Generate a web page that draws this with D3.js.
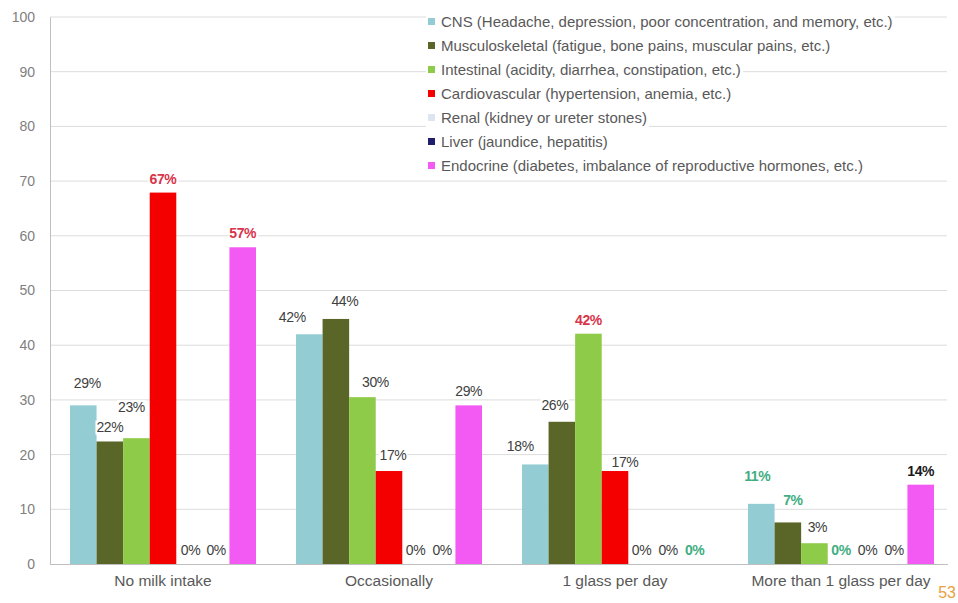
<!DOCTYPE html>
<html><head><meta charset="utf-8">
<script src="https://cdn.jsdelivr.net/npm/d3@7/dist/d3.min.js"></script>
<style>body{margin:0;background:#fff;}svg{display:block;font-family:"Liberation Sans",Arial,sans-serif;}</style>
</head><body><svg id="c" width="958" height="603"></svg>
<script>
const categories = ["No milk intake", "Occasionally", "1 glass per day", "More than 1 glass per day"];
const seriesNames = [
  "CNS (Headache, depression, poor concentration, and memory, etc.)",
  "Musculoskeletal (fatigue, bone pains, muscular pains, etc.)",
  "Intestinal (acidity, diarrhea, constipation, etc.)",
  "Cardiovascular (hypertension, anemia, etc.)",
  "Renal (kidney or ureter stones)",
  "Liver (jaundice, hepatitis)",
  "Endocrine (diabetes, imbalance of reproductive hormones, etc.)"
];
const seriesColors = ["#93CDD3", "#5A6628", "#8DCB48", "#F50000", "#DDE6F0", "#1E1E6A", "#F35AF3"];
// values per category, in series order
const cnsValues    = [29, 42, 18.2, 11];
const muscValues   = [22.4, 44.8, 26, 7.6];
const intestValues = [23, 30.5, 42.1, 3.8];
const cardioValues = [67.9, 17, 17, 0];
const renalValues  = [0, 0, 0, 0];
const liverValues  = [0, 0, 0, 0];
const endoValues   = [57.9, 29, 0, 14.5];
const labelTexts = [
  ["29%", "22%", "23%", "67%", "0%", "0%", "57%"],
  ["42%", "44%", "30%", "17%", "0%", "0%", "29%"],
  ["18%", "26%", "42%", "17%", "0%", "0%", "0%"],
  ["11%", "7%", "3%", "0%", "0%", "0%", "14%"]
];
const yTicks = [0, 10, 20, 30, 40, 50, 60, 70, 80, 90, 100];
const pageNumber = "53";

const allValues = [cnsValues, muscValues, intestValues, cardioValues, renalValues, liverValues, endoValues];

// label styles / nudges (presentation)
const labelStyle = {
  "0-3": "red", "0-6": "red", "2-2": "red",
  "2-6": "green", "3-0": "green", "3-1": "green", "3-3": "green", "3-6": "black"
};
const labelNudge = { // [dx, dy]
  "0-0": [4, -8], "0-2": [-5, -17], "0-4": [1, 0], "0-5": [0, 0],
  "1-0": [-17, -3], "1-1": [9, -4], "1-2": [13, -1], "1-3": [4, -2],
  "2-0": [-15, -4], "2-1": [-7, -3], "2-3": [10, 5],
  "3-0": [-4, -14], "3-1": [5, -8], "3-2": [3, -2]
};

const svg = d3.select("#c");
const x0 = d3.scaleBand().domain(categories).range([50, 954]);
const x1 = d3.scaleBand().domain(d3.range(seriesNames.length)).range([20, 206]).padding(0);
const y = d3.scaleLinear().domain([0, 100]).range([564, 17]);

// gridlines
svg.append("g").selectAll("line").data(yTicks.filter(d => d > 0)).join("line")
  .attr("x1", 50).attr("x2", 947).attr("y1", d => y(d)).attr("y2", d => y(d))
  .attr("stroke", "#DCDCDC").attr("stroke-width", 1);

// y axis
const yAxis = d3.axisLeft(y).tickValues(yTicks).tickSize(0).tickPadding(15);
const ga = svg.append("g").attr("transform", "translate(50,0)").call(yAxis);
ga.select(".domain").attr("stroke", "#BFBFBF");
ga.selectAll("text").attr("fill", "#7F7F7F").attr("font-size", 14).attr("font-family", "Liberation Sans, Arial, sans-serif");

// x axis
const xAxis = d3.axisBottom(x0).tickSize(0).tickPadding(11);
const gx = svg.append("g").attr("transform", "translate(0,564)").call(xAxis);
gx.select(".domain").attr("stroke", "#BFBFBF").attr("d", "M50,0.5H948");
gx.selectAll("text").attr("fill", "#595959").attr("font-size", 15.5).attr("font-family", "Liberation Sans, Arial, sans-serif");

// bars
const barData = [];
categories.forEach((c, ci) => {
  allValues.forEach((vals, si) => {
    barData.push({c, ci, si, v: vals[ci], label: labelTexts[ci][si]});
  });
});
svg.append("g").selectAll("rect").data(barData.filter(d => d.v > 0)).join("rect")
  .attr("x", d => x0(d.c) + x1(d.si))
  .attr("width", x1.bandwidth())
  .attr("y", d => y(d.v))
  .attr("height", d => y(0) - y(d.v))
  .attr("fill", d => seriesColors[d.si]);

// labels
const styleColor = {red: "#D8344A", green: "#3FAE82", black: "#1A1A1A"};
const lg = svg.append("g");
barData.forEach(d => {
  const key = d.ci + "-" + d.si;
  const st = labelStyle[key];
  const nd = labelNudge[key] || [0, 0];
  const cx = x0(d.c) + x1(d.si) + x1.bandwidth() / 2 + nd[0];
  const by = y(d.v) - 9 + nd[1];
  const t = lg.append("text").attr("x", cx).attr("y", by)
    .attr("text-anchor", "middle").attr("font-size", 14)
    .attr("fill", st ? styleColor[st] : "#404040")
    .attr("font-weight", st ? "bold" : "normal")
    .attr("letter-spacing", "-0.4")
    .text(d.label);
  const bb = t.node().getBBox();
  if (d.v > 0) {
    lg.insert("rect", () => t.node()).attr("x", bb.x - 1).attr("y", bb.y + 1).attr("width", bb.width + 2).attr("height", bb.height - 2).attr("fill", "#fff");
  }
});

// legend
const leg = svg.append("g").attr("transform", "translate(426,10)");
seriesNames.forEach((n, i) => {
  const g = leg.append("g").attr("transform", `translate(0,${i * 24})`);
  const bg = g.append("rect").attr("x", 0).attr("y", 0).attr("height", 23).attr("fill", "#fff");
  g.append("rect").attr("x", 2).attr("y", 8).attr("width", 7).attr("height", 7).attr("fill", seriesColors[i]);
  const t = g.append("text").attr("x", 15).attr("y", 17).attr("font-size", 15).attr("fill", "#595959")
    .text(n);
  bg.attr("width", 15 + t.node().getComputedTextLength() + 2);
});

// page number
svg.append("text").attr("x", 956).attr("y", 598).attr("text-anchor", "end")
  .attr("font-size", 16).attr("fill", "#E6A23C").text(pageNumber);
</script>
</body></html>
